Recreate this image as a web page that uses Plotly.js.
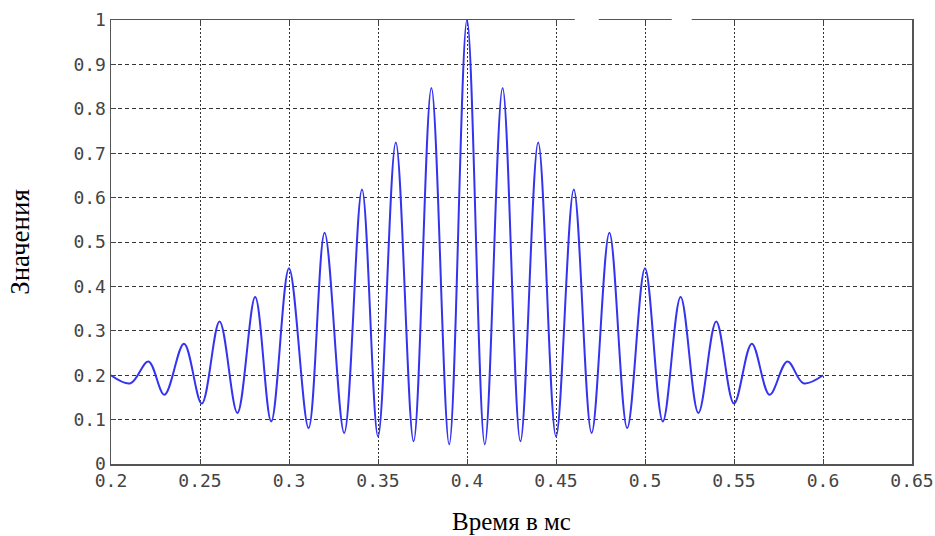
<!DOCTYPE html>
<html>
<head>
<meta charset="utf-8">
<script src="https://cdn.plot.ly/plotly-3.0.1.min.js"></script>
<style>
  html, body { margin: 0; padding: 0; background: #fff; }
  #chart { width: 935px; height: 536px; }
</style>
</head>
<body>
<div id="chart"></div>
<script>
// Extrema of the signal (time in ms, value)
var timeMs = [0.200, 0.211, 0.221, 0.230, 0.241, 0.251, 0.261, 0.271, 0.281, 0.290,
              0.300, 0.311, 0.320, 0.331, 0.341, 0.350, 0.360, 0.370, 0.380, 0.390,
              0.400,
              0.410, 0.420, 0.430, 0.440, 0.450, 0.460, 0.470, 0.480, 0.490, 0.500,
              0.510, 0.520, 0.530, 0.540, 0.550, 0.560, 0.570, 0.580, 0.589, 0.600];
var values = [0.200, 0.182, 0.231, 0.156, 0.271, 0.136, 0.321, 0.115, 0.376, 0.096,
              0.441, 0.081, 0.521, 0.070, 0.618, 0.062, 0.724, 0.051, 0.847, 0.044,
              1.000,
              0.044, 0.847, 0.051, 0.724, 0.062, 0.618, 0.070, 0.521, 0.081, 0.441,
              0.096, 0.376, 0.115, 0.321, 0.136, 0.271, 0.156, 0.231, 0.182, 0.200];

var xTitle = 'Время в мс';
var yTitle = 'Значения';

var tickFont = { family: 'DejaVu Sans Mono, monospace', size: 18, color: '#444' };

var trace = {
  x: timeMs,
  y: values,
  type: 'scatter',
  mode: 'lines',
  line: { color: '#3434f0', width: 2, shape: 'spline', smoothing: 1 },
  hoverinfo: 'x+y'
};

var layout = {
  width: 935,
  height: 536,
  margin: { l: 111, r: 23, t: 20, b: 72 },
  paper_bgcolor: '#ffffff',
  plot_bgcolor: '#ffffff',
  showlegend: false,
  xaxis: {
    range: [0.2, 0.65],
    tick0: 0.2,
    dtick: 0.05,
    ticks: 'inside',
    ticklen: 5,
    tickcolor: '#444',
    showline: true,
    linecolor: '#555',
    linewidth: 1.5,
    mirror: 'ticks',
    showgrid: true,
    gridcolor: '#333',
    gridwidth: 1,
    griddash: '2px,2px',
    zeroline: false,
    tickfont: tickFont,
    title: { text: xTitle, font: { family: 'Liberation Serif, Times New Roman, serif', size: 25, color: '#000' }, standoff: 22 }
  },
  yaxis: {
    range: [0, 1],
    tick0: 0,
    dtick: 0.1,
    ticks: 'inside',
    ticklen: 5,
    tickcolor: '#444',
    showline: true,
    linecolor: '#555',
    linewidth: 1.5,
    mirror: 'ticks',
    showgrid: true,
    gridcolor: '#333',
    gridwidth: 1,
    griddash: '4px,3px',
    zeroline: false,
    tickfont: tickFont,
    title: { text: yTitle, font: { family: 'Liberation Serif, Times New Roman, serif', size: 27, color: '#000' }, standoff: 36 }
  },
  shapes: [
    { type: 'rect', xref: 'paper', yref: 'paper', x0: 0.579, x1: 0.609, y0: 0.99, y1: 1.03, fillcolor: '#fff', line: { width: 0 }, layer: 'above' },
    { type: 'rect', xref: 'paper', yref: 'paper', x0: 0.700, x1: 0.725, y0: 0.99, y1: 1.03, fillcolor: '#fff', line: { width: 0 }, layer: 'above' }
  ]
};

Plotly.newPlot('chart', [trace], layout, { displayModeBar: false, staticPlot: true });
</script>
</body>
</html>
